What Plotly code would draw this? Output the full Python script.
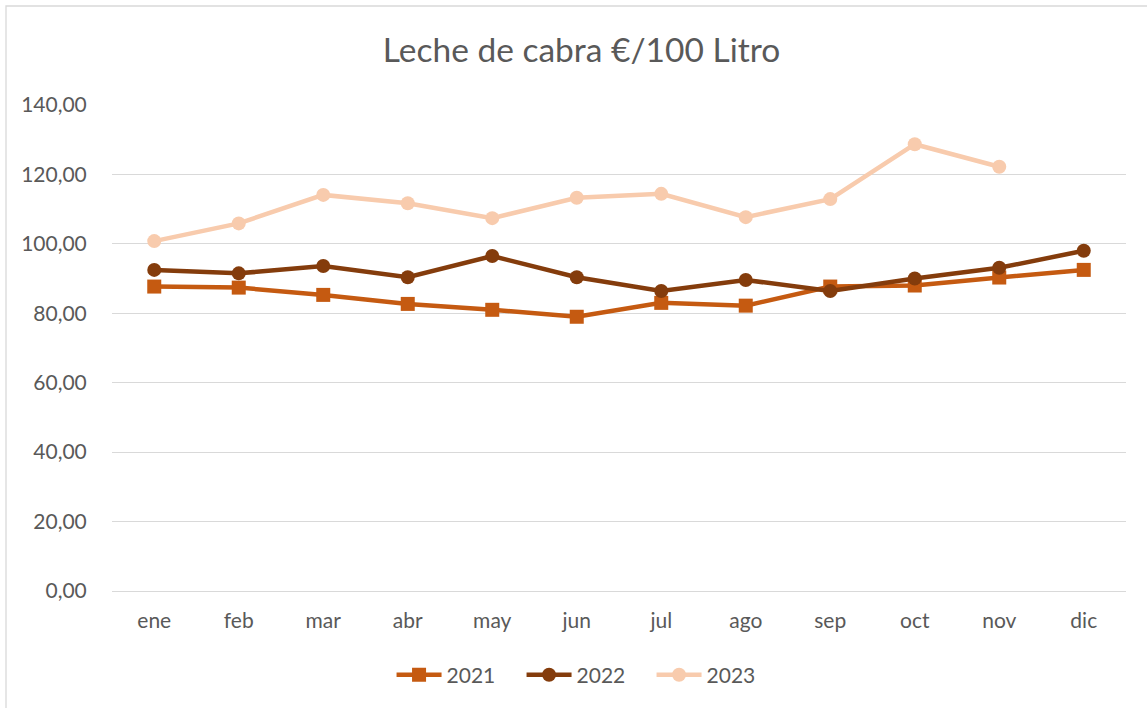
import plotly.graph_objects as go

months = ["ene", "feb", "mar", "abr", "may", "jun", "jul", "ago", "sep", "oct", "nov", "dic"]
v2021 = [87.7, 87.4, 85.3, 82.7, 81.0, 79.0, 83.0, 82.2, 87.7, 88.0, 90.3, 92.5]
v2022 = [92.5, 91.5, 93.6, 90.4, 96.5, 90.4, 86.4, 89.6, 86.4, 90.0, 93.1, 98.0]
v2023 = [100.8, 105.9, 114.1, 111.7, 107.4, 113.3, 114.4, 107.7, 112.9, 128.7, 122.2, None]

series = [
    ("2021", v2021, "#C55A11", "square"),
    ("2022", v2022, "#843C0C", "circle"),
    ("2023", v2023, "#F8CBAD", "circle"),
]

fig = go.Figure()
for name, vals, color, sym in series:
    fig.add_trace(go.Scatter(
        x=months, y=vals, name=name, mode="lines+markers",
        line=dict(color=color, width=4.5),
        marker=dict(color=color, symbol=sym, size=14),
    ))

font_family = "Lato, 'Open Sans', sans-serif"
fig.update_layout(
    width=1147, height=708,
    margin=dict(l=112, r=21, t=105, b=117, autoexpand=False),
    paper_bgcolor="white", plot_bgcolor="white",
    separators=",.",
    font=dict(family=font_family, color="#595959", size=20),
    title=dict(text="Leche de cabra €/100 Litro", x=0.507, xanchor="center",
               y=1 - 50 / 708, yanchor="middle",
               font=dict(size=33.5, color="#595959", family=font_family)),
    legend=dict(orientation="h", x=0.468, xanchor="center", y=-0.173, yanchor="middle",
                font=dict(size=21, color="#595959"), itemwidth=45,
                entrywidth=70, entrywidthmode="pixels"),
    showlegend=True,
    xaxis=dict(range=[-0.5, 11.5], showgrid=False, showline=False, ticks="outside", ticklen=11,
               tickcolor="rgba(0,0,0,0)", tickfont=dict(size=21, color="#595959")),
    yaxis=dict(range=[0, 140], dtick=20, tickformat=".2f", showgrid=True,
               gridcolor="#D9D9D9", gridwidth=1.3, zeroline=True, zerolinecolor="#D9D9D9",
               zerolinewidth=1.3, ticks="outside", ticklen=20, tickcolor="rgba(0,0,0,0)",
               tickfont=dict(size=21, color="#595959")),
    shapes=[dict(type="rect", xref="paper", yref="paper",
                 x0=(6 - 112) / 1014, x1=(1160 - 112) / 1014,
                 y0=(591 - 720) / 486, y1=(591 - 6) / 486,
                 line=dict(color="#D9D9D9", width=1.3), fillcolor="rgba(0,0,0,0)", layer="below")],
)

fig.write_html("out.html", config={"displayModeBar": False},
               post_script="document.body.style.margin='0';document.body.style.overflow='hidden';")
